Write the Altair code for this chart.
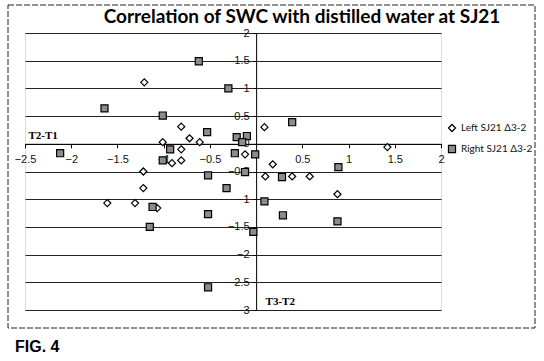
import altair as alt
import pandas as pd

left_x = [-1.21, 0.09, -0.81, -0.72, -0.61, -1.01, -0.81, -0.81, -0.91, -0.12, -1.22, 0.10, -1.22,
          0.18, 0.39, 0.58, 0.88, 1.42, -1.61, -1.31, -1.07]
left_y = [1.11, 0.30, 0.31, 0.10, 0.03, 0.03, -0.10, -0.30, -0.35, -0.19, -0.50, -0.59, -0.80,
          -0.37, -0.59, -0.59, -0.91, -0.06, -1.07, -1.07, -1.16]
right_x = [-0.62, -0.30, -1.64, -1.01, -0.53, -0.21, -0.10, -0.15, 0.39, -0.93, -1.01, -2.12, -0.23,
           -0.01, -0.52, -0.12, -0.32, 0.28, 0.89, -1.12, -0.52, -1.15, 0.09, 0.29, 0.88, -0.03, -0.52]
right_y = [1.49, 1.00, 0.64, 0.51, 0.21, 0.12, 0.14, 0.03, 0.39, -0.10, -0.30, -0.17, -0.17,
           -0.19, -0.57, -0.51, -0.80, -0.60, -0.42, -1.14, -1.27, -1.50, -1.04, -1.29, -1.40, -1.59, -2.59]

series_names = ["Left SJ21 \u03943-2", "Right SJ21 \u03943-2"]
x_ticks = [-2.5, -2, -1.5, -1, -0.5, 0.5, 1, 1.5, 2]
y_ticks = [2, 1.5, 1, 0.5, 0, -0.5, -1, -1.5, -2, -2.5, -3]

df = pd.DataFrame({
    "x": left_x + right_x,
    "y": left_y + right_y,
    "series": [series_names[0]] * len(left_x) + [series_names[1]] * len(right_x),
})

W, H = 416, 277
x_dom = [-2.5, 2]
y_dom = [-3, 2]
y_axis_off = -W * (0 - x_dom[0]) / (x_dom[1] - x_dom[0])
x_axis_off = -H * (0 - y_dom[0]) / (y_dom[1] - y_dom[0])

leg = dict(title=None, orient="none", legendX=422, legendY=90, labelFont="Lato", labelFontSize=10,
           labelColor="#111", rowPadding=9, symbolStrokeWidth=1.2, symbolSize=50, labelOffset=4)

points = alt.Chart(df).mark_point(filled=False, strokeWidth=1.2, size=50, opacity=1).encode(
    x=alt.X("x:Q", scale=alt.Scale(domain=x_dom, nice=False, zero=False),
            axis=alt.Axis(values=x_ticks, format="~g", offset=x_axis_off, grid=False,
                          domainColor="black", tickColor="black", tickSize=4, labelFontSize=11,
                          labelColor="#111", labelFont="Liberation Sans", labelPadding=6,
                          labelFlush=False,
                          title="T2-T1", titleFont="Liberation Serif", titleFontSize=11,
                          titleFontWeight="bold", titleX=3, titleY=-5, titleAlign="left",
                          titleBaseline="alphabetic", titleColor="black")),
    y=alt.Y("y:Q", scale=alt.Scale(domain=y_dom, nice=False, zero=False),
            axis=alt.Axis(values=y_ticks, format="~g", offset=y_axis_off, grid=True, gridColor="#222",
                          gridWidth=1, domainColor="black", tickColor="black", tickSize=3,
                          labelFontSize=11, labelColor="#111", labelFont="Liberation Sans",
                          labelPadding=4, labelFlush=False,
                          title="T3-T2", titleFont="Liberation Serif", titleFontSize=11,
                          titleFontWeight="bold", titleAngle=0, titleX=9, titleY=268,
                          titleAlign="left", titleBaseline="middle", titleColor="black")),
    shape=alt.Shape("series:N", scale=alt.Scale(domain=series_names, range=["diamond", "square"]),
                    legend=alt.Legend(**leg)),
    fill=alt.Fill("series:N", scale=alt.Scale(domain=series_names, range=["white", "#8c8c8c"]),
                  legend=alt.Legend(**leg)),
    stroke=alt.Stroke("series:N", scale=alt.Scale(domain=series_names, range=["black", "black"]),
                      legend=alt.Legend(**leg)),
)

one = alt.Data(values=[{}])
frame = alt.Chart(one).mark_rect(filled=False, stroke="#222", strokeWidth=1, strokeDash=[6, 2]).encode(
    x=alt.value(-17), x2=alt.value(510), y=alt.value(-28), y2=alt.value(295))
fig = alt.Chart(one).mark_text(text="FIG. 4", font="Liberation Sans", fontSize=16, fontWeight="bold",
                               align="left", baseline="alphabetic", color="black").encode(
    x=alt.value(-10), y=alt.value(319))

chart = alt.layer(frame, points, fig).properties(
    width=W, height=H,
    title=alt.Title("Correlation of SWC with distilled water at SJ21", font="Lato", fontSize=19,
                    fontWeight="bold", color="black", anchor="middle", frame="group", dx=69,
                    dy=42, offset=5, baseline="alphabetic"),
    padding={"left": 25, "top": 33, "right": 103, "bottom": 51},
    autosize=alt.AutoSizeParams(type="none"),
).configure_view(stroke=None).configure(background="white")

chart.save("out.html", embed_options={"renderer": "svg", "actions": False})
